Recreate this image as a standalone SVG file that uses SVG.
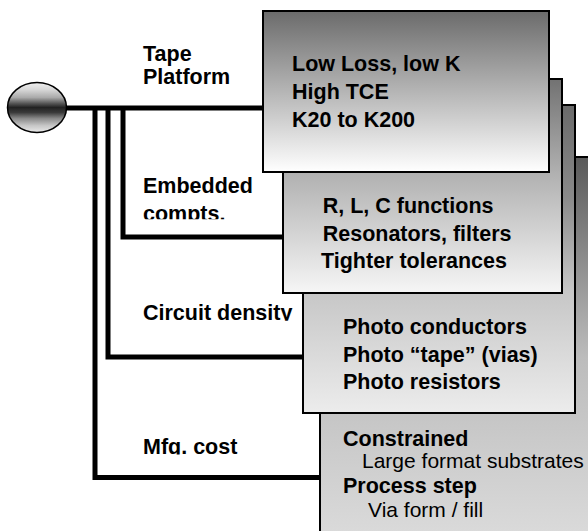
<svg xmlns="http://www.w3.org/2000/svg" width="588" height="531" viewBox="0 0 588 531">
  <style>
    .b { font-family: "Liberation Sans", Arial, Helvetica, sans-serif; font-weight: bold; font-size: 21.5px; fill: #000; }
    .r { font-family: "Liberation Sans", Arial, Helvetica, sans-serif; font-weight: normal; font-size: 21px; fill: #000; }
    .box { stroke: #000; stroke-width: 2; }
    .conn { fill: none; stroke: #000; stroke-width: 5; stroke-linejoin: miter; stroke-linecap: butt; }
  </style>
  <defs>
    <linearGradient id="gEll" x1="0" y1="0" x2="0" y2="1">
      <stop offset="0" stop-color="#f0f0f0"/>
      <stop offset="0.15" stop-color="#d6d6d6"/>
      <stop offset="0.3" stop-color="#aaaaaa"/>
      <stop offset="0.42" stop-color="#555555"/>
      <stop offset="0.5" stop-color="#222222"/>
      <stop offset="0.6" stop-color="#3a3a3a"/>
      <stop offset="0.72" stop-color="#8a8a8a"/>
      <stop offset="0.86" stop-color="#c6c6c6"/>
      <stop offset="1" stop-color="#eaeaea"/>
    </linearGradient>
    <linearGradient id="g1" x1="0" y1="0" x2="0" y2="1">
      <stop offset="0" stop-color="#6b6b6b"/>
      <stop offset="1" stop-color="#ffffff"/>
    </linearGradient>
    <linearGradient id="g2" x1="0" y1="0" x2="0" y2="1">
      <stop offset="0" stop-color="#727272"/>
      <stop offset="0.45" stop-color="#b2b2b2"/>
      <stop offset="1" stop-color="#f6f6f6"/>
    </linearGradient>
    <linearGradient id="g3" x1="0" y1="0" x2="0" y2="1">
      <stop offset="0" stop-color="#6a6a6a"/>
      <stop offset="0.3" stop-color="#8a8a8a"/>
      <stop offset="0.6" stop-color="#c6c6c6"/>
      <stop offset="1" stop-color="#ececec"/>
    </linearGradient>
    <linearGradient id="g4" x1="0" y1="0" x2="0" y2="1">
      <stop offset="0" stop-color="#5a5a5a"/>
      <stop offset="0.5" stop-color="#bcbcbc"/>
      <stop offset="1" stop-color="#dedede"/>
    </linearGradient>
    <clipPath id="cEmb"><rect x="130" y="160" width="150" height="59.3"/></clipPath>
    <clipPath id="cCirc"><rect x="130" y="290" width="170" height="30.8"/></clipPath>
    <clipPath id="cMfg"><rect x="130" y="425" width="170" height="29.6"/></clipPath>
  </defs>

  <g id="connectors">
    <path class="conn" d="M66,108 H265"/>
    <path class="conn" d="M123,108 V237 H284"/>
    <path class="conn" d="M108,108 V357 H304"/>
    <path class="conn" d="M95,108 V477.5 H321"/>
  </g>

  <g id="labels">
    <text class="b" x="143" y="61">Tape</text>
    <text class="b" x="143" y="84.3">Platform</text>
    <g clip-path="url(#cEmb)">
      <text class="b" x="143" y="192.7">Embedded</text>
      <text class="b" x="143" y="220.5">compts.</text>
    </g>
    <g clip-path="url(#cCirc)">
      <text class="b" x="143" y="320">Circuit density</text>
    </g>
    <g clip-path="url(#cMfg)">
      <text class="b" x="143" y="454.3">Mfg. cost</text>
    </g>
  </g>

  <g id="root">
    <ellipse cx="37" cy="107.5" rx="29.5" ry="25" fill="url(#gEll)" stroke="#000" stroke-width="1.5"/>
  </g>

  <g id="box-cost">
    <rect class="box" x="320" y="157" width="290" height="400" fill="url(#g4)"/>
    <text class="b" x="343" y="446">Constrained</text>
    <text class="r" x="362" y="468">Large format substrates</text>
    <text class="b" x="343" y="493">Process step</text>
    <text class="r" x="368" y="517">Via form / fill</text>
  </g>

  <g id="box-density">
    <rect class="box" x="303" y="105" width="272" height="308" fill="url(#g3)"/>
    <text class="b" x="343" y="334">Photo conductors</text>
    <text class="b" x="343" y="361.7">Photo “tape” (vias)</text>
    <text class="b" x="343" y="389.3">Photo resistors</text>
  </g>

  <g id="box-embedded">
    <rect class="box" x="283" y="79" width="279" height="214" fill="url(#g2)"/>
    <text class="b" x="322.7" y="212.7">R, L, C functions</text>
    <text class="b" x="322.7" y="240.7">Resonators, filters</text>
    <text class="b" x="321" y="268">Tighter tolerances</text>
  </g>

  <g id="box-tape">
    <rect class="box" x="263" y="11" width="286" height="161" fill="url(#g1)"/>
    <text class="b" x="292" y="71">Low Loss, low K</text>
    <text class="b" x="292" y="99">High TCE</text>
    <text class="b" x="292" y="127">K20 to K200</text>
  </g>
</svg>
